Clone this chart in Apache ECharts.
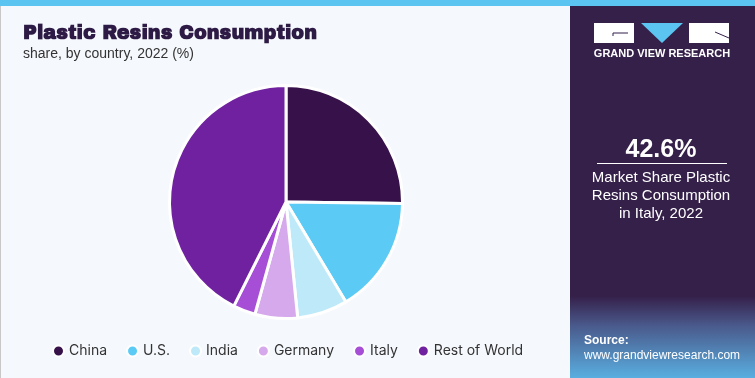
<!DOCTYPE html>
<html><head><meta charset="utf-8">
<script src="https://cdn.jsdelivr.net/npm/echarts@6/dist/echarts.min.js"></script>
<style>html,body{margin:0;padding:0;background:#f5f8fc}#c{width:755px;height:378px}</style>
</head><body><div id="c"></div>
<script>
const categories = ["China", "U.S.", "India", "Germany", "Italy", "Rest of World"];
const shares = [25.2, 16.2, 7.0, 5.9, 3.1, 42.6];
const colors = ["#37114a", "#5bcbf5", "#bde9f9", "#d5a9ec", "#a64fd6", "#6f21a0"];
const headline = "42.6%";
const blurb = ["Market Share Plastic", "Resins Consumption", "in Italy, 2022"];

const chart = echarts.init(document.getElementById('c'));
const F = "Liberation Sans, Arial, sans-serif";
chart.setOption({
  backgroundColor: '#f5f8fc',
  animation: false,
  color: colors,
  title: [{
    text: 'Plastic Resins Consumption',
    subtext: 'share, by country, 2022 (%)',
    left: 18, top: 19,
    itemGap: 4,
    textStyle: {fontFamily: 'Archivo Black, DejaVu Sans, sans-serif', fontWeight: 'bold', fontSize: 19.3, color: '#2d1a45'},
    subtextStyle: {fontFamily: F, fontSize: 14, color: '#333'}
  }],
  legend: {
    data: categories,
    left: 47, top: 339,
    icon: 'circle', itemWidth: 11, itemHeight: 11, itemGap: 19,
    textStyle: {fontFamily: 'Inter, sans-serif', fontSize: 14, color: '#333'}
  },
  series: [{
    type: 'pie',
    center: [286, 202], radius: [0, 116.5],
    startAngle: 90, clockwise: true,
    label: {show: false}, labelLine: {show: false},
    itemStyle: {borderColor: '#ffffff', borderWidth: 3},
    emphasis: {disabled: true},
    data: categories.map((n, i) => ({name: n, value: shares[i]}))
  }],
  graphic: [
    {type: 'rect', shape: {x: 0, y: 0, width: 755, height: 6}, style: {fill: '#5bc4f0'}, z: 10},
    {type: 'rect', shape: {x: 0, y: 6, width: 1, height: 372}, style: {fill: '#c8c8c8'}, z: 10},
    {type: 'rect', shape: {x: 570, y: 6, width: 185, height: 372}, style: {fill: {type: 'linear', x: 0, y: 0, x2: 0, y2: 1, colorStops: [
      {offset: 0, color: '#35204a'}, {offset: 0.78, color: '#35204a'}, {offset: 0.86, color: '#4a5a8c'}, {offset: 1, color: '#5aaee0'}]}}, z: 5},
    {type: 'rect', shape: {x: 594, y: 23, width: 40, height: 20}, style: {fill: '#ffffff'}, z: 11},
    {type: 'polyline', shape: {points: [[613, 36], [613, 33], [628, 33]]}, style: {stroke: '#35204a', lineWidth: 1, fill: null}, z: 12},
    {type: 'polygon', shape: {points: [[641, 23], [683, 23], [662, 43]]}, style: {fill: '#5bc4f0'}, z: 11},
    {type: 'rect', shape: {x: 689, y: 23, width: 40, height: 20}, style: {fill: '#ffffff'}, z: 11},
    {type: 'polyline', shape: {points: [[715, 32], [729, 38]]}, style: {stroke: '#35204a', lineWidth: 1}, z: 12},
    {type: 'text', x: 662, y: 54, style: {text: 'GRAND VIEW RESEARCH', fill: '#ffffff', font: 'bold 11px ' + F, align: 'center', verticalAlign: 'middle'}, z: 11},
    {type: 'text', x: 661, y: 150, style: {text: headline, fill: '#ffffff', font: 'bold 25px ' + F, align: 'center', verticalAlign: 'middle'}, z: 11},
    {type: 'rect', shape: {x: 597, y: 163, width: 130, height: 1}, style: {fill: '#ffffff'}, z: 11},
    {type: 'text', x: 661, y: 178, style: {text: blurb[0], fill: '#ffffff', font: '15px ' + F, align: 'center', verticalAlign: 'middle'}, z: 11},
    {type: 'text', x: 661, y: 196, style: {text: blurb[1], fill: '#ffffff', font: '15px ' + F, align: 'center', verticalAlign: 'middle'}, z: 11},
    {type: 'text', x: 661, y: 214, style: {text: blurb[2], fill: '#ffffff', font: '15px ' + F, align: 'center', verticalAlign: 'middle'}, z: 11},
    {type: 'text', x: 584, y: 341, style: {text: 'Source:', fill: '#ffffff', font: 'bold 12px ' + F, verticalAlign: 'middle'}, z: 11},
    {type: 'text', x: 584, y: 356, style: {text: 'www.grandviewresearch.com', fill: '#ffffff', font: '12px ' + F, verticalAlign: 'middle'}, z: 11}
  ]
});
</script></body></html>
